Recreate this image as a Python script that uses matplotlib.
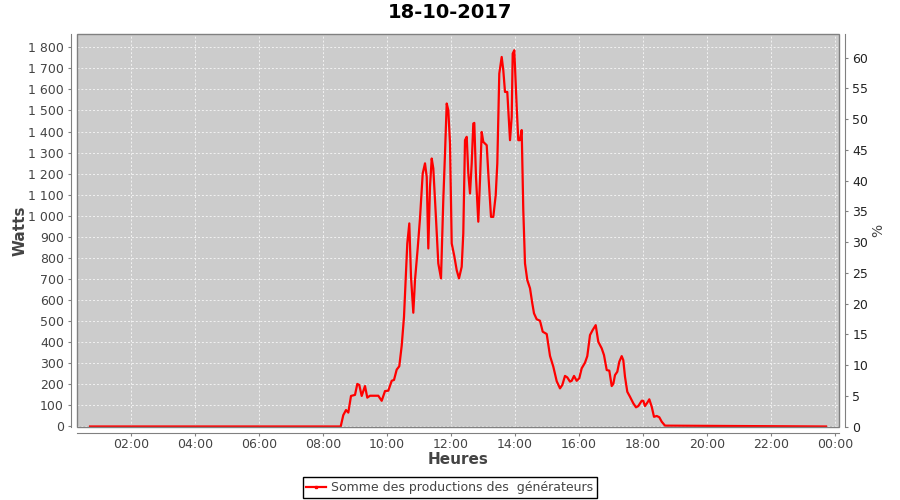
import numpy as np
import matplotlib
matplotlib.use('Agg')
import matplotlib.pyplot as plt
from matplotlib.ticker import FuncFormatter, MultipleLocator
from matplotlib.patches import Rectangle
from matplotlib.lines import Line2D

title = '18-10-2017'
series_name = 'Somme des productions des  générateurs'

# time of day in hours, power in watts
hours = [0.72, 8.553, 8.634, 8.719, 8.791, 8.875, 9.0, 9.072, 9.134, 9.209,
         9.3125, 9.384, 9.469, 9.728, 9.834, 9.9375, 10.041, 10.147, 10.219, 10.303,
         10.384, 10.459, 10.531, 10.634, 10.697, 10.75, 10.822, 10.875, 10.959, 11.031,
         11.116, 11.1875, 11.241, 11.291, 11.344, 11.397, 11.447, 11.531, 11.603, 11.6875,
         11.759, 11.8125, 11.866, 11.916, 11.969, 12.022, 12.103, 12.178, 12.25, 12.334,
         12.384, 12.4375, 12.491, 12.541, 12.594, 12.647, 12.697, 12.728, 12.781, 12.853,
         12.906, 12.959, 13.009, 13.116, 13.166, 13.25, 13.322, 13.397, 13.447, 13.509,
         13.584, 13.634, 13.6875, 13.759, 13.844, 13.897, 13.928, 13.978, 14.053, 14.103,
         14.156, 14.209, 14.259, 14.3125, 14.384, 14.469, 14.541, 14.594, 14.678, 14.781,
         14.866, 14.991, 15.094, 15.197, 15.303, 15.406, 15.478, 15.5625, 15.634, 15.719,
         15.772, 15.844, 15.928, 16.009, 16.084, 16.1875, 16.259, 16.344, 16.428, 16.522,
         16.603, 16.709, 16.781, 16.866, 16.947, 17.022, 17.072, 17.125, 17.197, 17.259,
         17.334, 17.384, 17.4375, 17.509, 17.594, 17.697, 17.781, 17.853, 17.959, 18.009,
         18.0625, 18.134, 18.197, 18.272, 18.344, 18.428, 18.509, 18.584, 18.6875, 23.72]
watts = [0, 0, 54, 78, 66, 145, 150, 202, 197, 145,
         192, 137, 146, 146, 122, 168, 170, 217, 221, 270,
         286, 383, 520, 869, 964, 711, 540, 695, 845, 988,
         1201, 1249, 1185, 845, 1138, 1272, 1225, 988, 774, 703,
         1074, 1296, 1533, 1501, 1343, 869, 809, 742, 703, 758,
         916, 1359, 1375, 1201, 1106, 1249, 1438, 1441, 1185, 972,
         1169, 1398, 1351, 1335, 1201, 995, 995, 1098, 1249, 1675,
         1754, 1691, 1588, 1588, 1359, 1470, 1770, 1786, 1517, 1359,
         1359, 1407, 1027, 774, 695, 656, 584, 537, 509, 502,
         450, 439, 335, 284, 215, 181, 197, 240, 233, 213,
         217, 240, 217, 229, 276, 303, 334, 434, 458, 481,
         402, 371, 339, 268, 265, 192, 202, 244, 260, 307,
         334, 315, 236, 165, 141, 110, 91, 97, 122, 122,
         97, 113, 129, 94, 46, 50, 44, 23, 4, 0]

hour_ticks = list(range(2, 25, 2))
hour_labels = ['%02d:00' % (h % 24) for h in hour_ticks]

plt.rcParams['font.family'] = ['DejaVu Sans']
fig = plt.figure(figsize=(9, 5), dpi=100)
ax = fig.add_axes([77 / 900, 1 - 427 / 500, 762 / 900, 393 / 500])
ax.set_facecolor('#cccccc')

ax.plot(hours, watts, color='#ff0000', lw=1.6, zorder=3)

ax.set_xlim(0.3125, 24.125)
ax.set_ylim(-2.4, 1863)
ax.set_xticks(hour_ticks)
ax.set_xticklabels(hour_labels)
ax.yaxis.set_major_locator(MultipleLocator(100))
ax.yaxis.set_major_formatter(FuncFormatter(lambda v, p: '{:,}'.format(int(v)).replace(',', ' ')))
ax.grid(True, color='#f2f2f2', ls=(0, (2, 2)), lw=0.7)
ax.set_axisbelow(True)

for s in ['top', 'right']:
    ax.spines[s].set_visible(False)
for s in ['left', 'bottom']:
    ax.spines[s].set_position(('outward', 4))
    ax.spines[s].set_color('#808080')
ax.tick_params(colors='#808080', labelcolor='#444444', labelsize=9, length=2, width=0.8)
ax.tick_params(axis='x', pad=2)
ax.add_patch(Rectangle((0, 0), 1, 1, transform=ax.transAxes, fill=False,
                       ec='#808080', lw=1, zorder=5, clip_on=False))

ax2 = ax.twinx()
ax2.set_ylim(-0.05, 63.85)
ax2.yaxis.set_major_locator(MultipleLocator(5))
for s in ['top', 'left', 'bottom']:
    ax2.spines[s].set_visible(False)
ax2.spines['right'].set_position(('outward', 4))
ax2.spines['right'].set_color('#808080')
ax2.tick_params(colors='#808080', labelcolor='#222222', labelsize=9, length=2, width=0.8)
ax2.set_ylabel('%', fontsize=10, color='#444444', labelpad=2)

ax.set_xlabel('Heures', fontsize=11, fontweight='bold', color='#444444', labelpad=1)
ax.set_ylabel('Watts', fontsize=11, fontweight='bold', color='#444444')
ax.yaxis.set_label_coords(-(77 - 28) / 762, 0.5)
fig.text(0.5, 1 - 13 / 500, title, ha='center', va='center', fontsize=14, fontweight='bold')

handle = Line2D([], [], color='#ff0000', lw=1.6, marker='s', markersize=2)
leg = fig.legend([handle], [series_name], loc='center', bbox_to_anchor=(0.5, 1 - 487.5 / 500),
                 fontsize=9, fancybox=False, framealpha=1, edgecolor='black',
                 handlelength=1.6, handletextpad=0.4, borderpad=0.3)
leg.get_frame().set_linewidth(1)
for t in leg.get_texts():
    t.set_color('#444444')

fig.savefig('out.png', dpi=100)
